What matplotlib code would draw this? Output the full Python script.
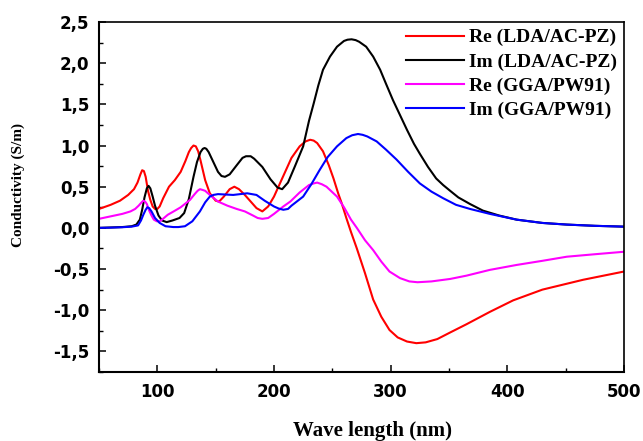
import matplotlib
matplotlib.use("Agg")
import matplotlib.pyplot as plt
from matplotlib.ticker import MultipleLocator, FuncFormatter

# ---- data ----
re_lda_x = [50, 60, 68, 75, 80, 83, 85.5, 87, 88.5, 90, 92, 94, 96, 98, 100, 102, 105, 110, 115, 120,
            124, 127, 129, 131, 133, 135, 137, 139, 141, 145, 150, 153, 157, 162, 166, 170, 175, 180,
            185, 190, 195, 200, 207, 215, 222, 227, 231, 234, 237, 242, 247, 251, 255, 258, 262, 266,
            271, 278, 285, 292, 299, 306, 314, 322, 330, 340, 351, 365, 385, 405, 430, 465, 500]
re_lda_y = [0.23, 0.28, 0.33, 0.40, 0.47, 0.55, 0.65, 0.70, 0.69, 0.62, 0.45, 0.34, 0.26, 0.23,
            0.23, 0.26, 0.36, 0.50, 0.58, 0.68, 0.81, 0.92, 0.97, 1.00, 0.99, 0.93, 0.82, 0.70, 0.58,
            0.42, 0.33, 0.32, 0.38, 0.47, 0.50, 0.47, 0.40, 0.32, 0.24, 0.20, 0.26, 0.38, 0.60, 0.85,
            0.99, 1.05, 1.07, 1.06, 1.03, 0.93, 0.76, 0.60, 0.42, 0.30, 0.12, -0.05, -0.25, -0.55,
            -0.87, -1.08, -1.24, -1.33, -1.38, -1.40, -1.39, -1.35, -1.27, -1.17, -1.02, -0.88, -0.75,
            -0.63, -0.53]

im_lda_x = [50, 60, 70, 78, 82, 85, 87, 89, 91, 92.5, 94, 96, 98, 101, 104, 108, 113, 119, 123, 127,
            131, 134, 137, 139, 140.5, 142, 144, 148, 152, 155, 158, 162, 168, 173, 176, 178, 180, 183,
            190, 197, 203, 207, 212, 218, 225, 230, 234, 238, 242, 248, 254, 260, 263, 266.5, 270, 273,
            279, 285, 291, 296, 302, 308, 314, 320, 325, 332, 339, 345, 351, 358, 368, 379, 393, 408,
            430, 451, 475, 500]
im_lda_y = [0.00, 0.005, 0.01, 0.02, 0.04, 0.10, 0.22, 0.37, 0.48, 0.51, 0.48, 0.38, 0.27, 0.15,
            0.09, 0.07, 0.09, 0.12, 0.18, 0.35, 0.62, 0.80, 0.92, 0.96, 0.97, 0.96, 0.92, 0.80, 0.68,
            0.63, 0.62, 0.65, 0.76, 0.85, 0.87, 0.87, 0.87, 0.84, 0.74, 0.59, 0.49, 0.47, 0.55, 0.75,
            0.99, 1.30, 1.51, 1.73, 1.92, 2.08, 2.20, 2.27, 2.285, 2.29, 2.28, 2.26, 2.20, 2.08, 1.92,
            1.75, 1.55, 1.37, 1.19, 1.02, 0.90, 0.74, 0.60, 0.52, 0.45, 0.37, 0.29, 0.21, 0.15, 0.10,
            0.06, 0.04, 0.025, 0.015]

re_gga_x = [50, 60, 70, 77, 81, 84, 86.5, 88, 89.5, 91, 93, 95, 97, 99.5, 102, 104, 109, 114, 120,
            128, 132, 134.5, 136.5, 139, 141, 145, 152, 160, 168, 175, 182, 186, 190, 195, 200, 208,
            214, 222, 230, 234, 237, 241, 245, 254, 260, 266, 271, 278, 285, 292, 299, 308, 316, 323,
            335, 351, 365, 385, 408, 430, 451, 475, 500]
re_gga_y = [0.11, 0.14, 0.17, 0.20, 0.23, 0.27, 0.31, 0.33, 0.32, 0.29, 0.21, 0.15, 0.10, 0.08, 0.08,
            0.10, 0.16, 0.20, 0.25, 0.34, 0.41, 0.45, 0.47, 0.46, 0.45, 0.40, 0.32, 0.27, 0.23, 0.20,
            0.15, 0.12, 0.11, 0.12, 0.17, 0.26, 0.32, 0.43, 0.52, 0.54, 0.55, 0.53, 0.50, 0.38, 0.25,
            0.10, 0.00, -0.15, -0.27, -0.41, -0.53, -0.61, -0.65, -0.66, -0.65, -0.62, -0.58, -0.51,
            -0.45, -0.40, -0.35, -0.32, -0.29]

im_gga_x = [50, 60, 70, 78, 83.5, 86, 88, 90, 91.4, 93, 95, 98, 102, 107, 113.7, 118, 123.7, 130,
            136.5, 141, 145, 148, 152, 165, 177, 185, 192, 200, 204, 208, 212, 215, 225, 232, 239, 246,
            254, 262, 267, 272, 276, 280, 288, 296, 305, 315, 325, 335, 345, 356, 368, 385, 408, 430,
            451, 475, 500]
im_gga_y = [0.00, 0.003, 0.008, 0.015, 0.03, 0.09, 0.16, 0.22, 0.25, 0.24, 0.20, 0.12, 0.06, 0.02,
            0.01, 0.01, 0.02, 0.08, 0.20, 0.31, 0.38, 0.40, 0.41, 0.40, 0.42, 0.40, 0.33, 0.26, 0.235,
            0.22, 0.23, 0.27, 0.38, 0.53, 0.70, 0.86, 0.99, 1.09, 1.125, 1.14, 1.13, 1.11, 1.05, 0.95,
            0.83, 0.68, 0.54, 0.44, 0.36, 0.28, 0.23, 0.17, 0.10, 0.06, 0.04, 0.025, 0.015]

labels = ["Re (LDA/AC-PZ)", "Im (LDA/AC-PZ)", "Re (GGA/PW91)", "Im (GGA/PW91)"]
colors = ["#ff0000", "#000000", "#ff00ff", "#0000ff"]
x_ticks = [100, 200, 300, 400, 500]
y_ticks = [-1.5, -1.0, -0.5, 0.0, 0.5, 1.0, 1.5, 2.0, 2.5]

fig = plt.figure(figsize=(6.43, 4.41), dpi=100)
ax = fig.add_axes([99 / 643, 1 - 372 / 441, (624 - 99) / 643, (372 - 22) / 441])

series = [(re_lda_x, re_lda_y), (im_lda_x, im_lda_y), (re_gga_x, re_gga_y), (im_gga_x, im_gga_y)]
for (xs, ys), lab, col in zip(series, labels, colors):
    ax.plot(xs, ys, color=col, lw=1.5, label=lab, solid_joinstyle="round")

ax.set_xlim(50, 500)
ax.set_ylim(-1.75, 2.5)
ax.set_xticks(x_ticks)
ax.set_yticks(y_ticks)
ax.xaxis.set_minor_locator(MultipleLocator(50))
ax.yaxis.set_minor_locator(MultipleLocator(0.25))
ax.yaxis.set_major_formatter(FuncFormatter(lambda v, p: f"{v:.1f}".replace(".", ",")))
ax.tick_params(axis="both", which="both", direction="in", top=False, right=False)
ax.tick_params(axis="both", which="major", length=5, width=1.1)
ax.tick_params(axis="both", which="minor", length=3, width=1.0)
ax.tick_params(axis="y", which="major", pad=7)
ax.tick_params(axis="x", which="major", pad=8)
for lbl in ax.get_xticklabels() + ax.get_yticklabels():
    lbl.set_fontfamily("DejaVu Sans")
    lbl.set_fontweight("bold")
    lbl.set_fontsize(12)
for s in ax.spines.values():
    s.set_linewidth(1.2)
ax.spines["left"].set_linewidth(1.5)
ax.spines["bottom"].set_linewidth(1.5)

fig.text(372 / 643, 1 - 431 / 441, "Wave length (nm)", ha="center", va="center",
         family="Liberation Serif", fontweight="bold", fontsize=15)
fig.text(18 / 643, 1 - 185 / 441, "Conductivity (S/m)", ha="center", va="center", rotation=90,
         family="Liberation Serif", fontweight="bold", fontsize=11)

leg = ax.legend(loc="upper right", bbox_to_anchor=(1.0, 1.0), frameon=False,
                prop={"family": "Liberation Serif", "weight": "bold", "size": 14},
                handlelength=3.0, handletextpad=0.25, labelspacing=0.34, borderaxespad=0.15,
                borderpad=0.2)

fig.savefig("out.png", dpi=100)
